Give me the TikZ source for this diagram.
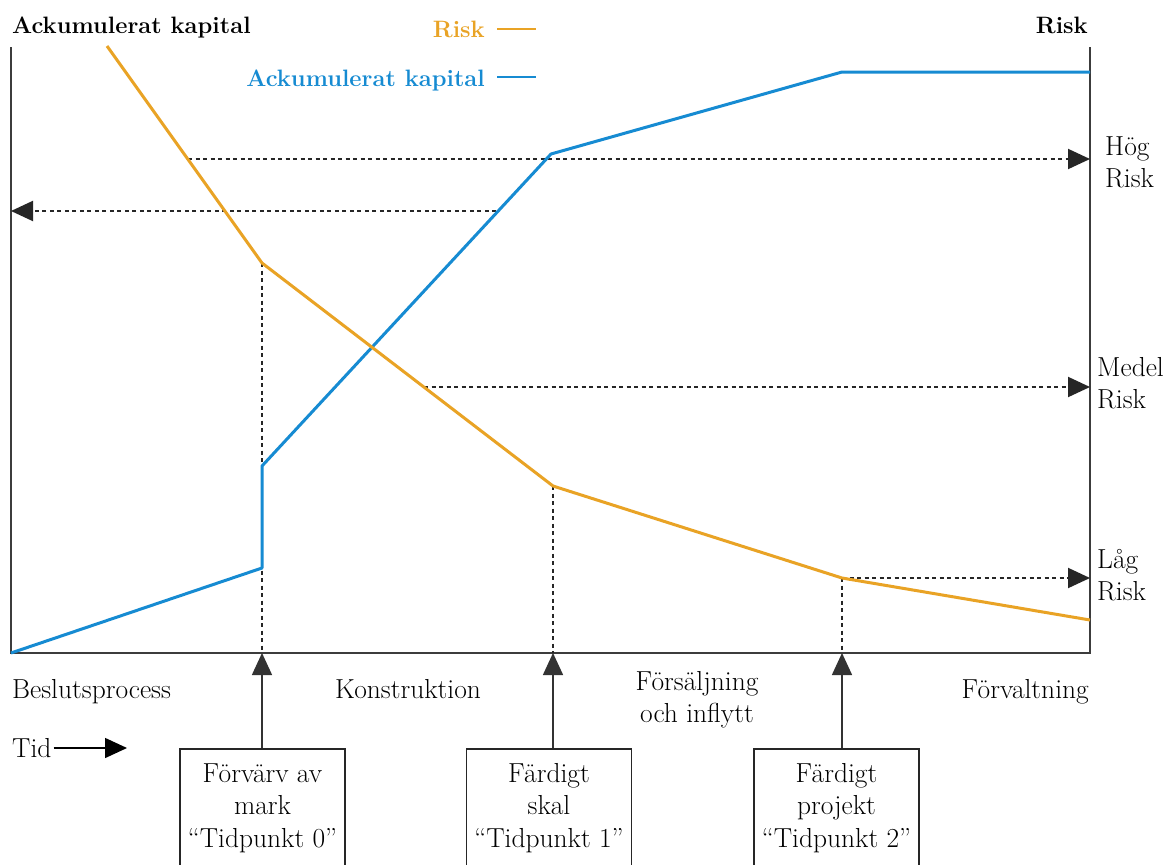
\documentclass[tikz,border=0pt]{standalone}
\usepackage{fontspec}
\usetikzlibrary{arrows.meta,calc}
\definecolor{riskorange}{HTML}{E9A325}
\definecolor{capblue}{HTML}{168BD2}
\definecolor{axisgray}{HTML}{3C3C3C}
\tikzset{
  axisline/.style={draw=axisgray, line width=2pt},
  riskline/.style={draw=riskorange, line width=3pt, line join=round},
  capline/.style={draw=capblue, line width=3pt, line join=round},
  guide/.style={draw=black!85, line width=2pt, dash pattern=on 4pt off 3.5pt},
  tip/.style={-{Triangle[length=22pt,width=20pt]}},
  lbl/.style={font=\fontsize{27.5}{32}\selectfont, inner sep=0pt, align=left},
  ttl/.style={font=\fontsize{23.7}{28}\selectfont\bfseries, inner sep=0pt},
  tbox/.style={draw=black!85, line width=1.5pt, minimum width=165pt, minimum height=160pt, anchor=north},
  boxtext/.style={font=\fontsize{27.5}{32.5}\selectfont, inner sep=0pt, align=center, anchor=base},
  upline/.style={draw=black!80, line width=1.5pt},
}
\begin{document}
\begin{tikzpicture}[x=1pt,y=-1pt]
\clip (0,0) rectangle (1176,865);
\fill[white] (0,0) rectangle (1176,865);

% axes
\coordinate (ltop) at (11,47);
\coordinate (o) at (11,653);
\coordinate (rbot) at (1090,653);
\coordinate (rtop) at (1090,47);
\draw[axisline] (ltop) -- (o) -- (rbot) -- (rtop);

% break points of the two curves
\coordinate (r0) at (107,46);
\coordinate (r1) at (262,263);
\coordinate (r2) at (553,486);
\coordinate (r3) at (842,578);
\coordinate (r4) at (1090,620);
\coordinate (c0) at (11,653);
\coordinate (c1) at (262,568);
\coordinate (c2) at (262,466);
\coordinate (c3) at (551,154);
\coordinate (c4) at (842,72);
\coordinate (c5) at (1090,72);

% vertical guides down to the time axis
\coordinate (a0) at (262,653);
\coordinate (a1) at (553,653);
\coordinate (a2) at (842,653);
\draw[guide] (r1) -- (a0);
\draw[guide] (r2) -- (a1);
\draw[guide] (r3) -- (a2);

% horizontal guides to the axes
\coordinate (hs) at (188,159);
\coordinate (he) at (1090,159);
\coordinate (ks) at (496,211);
\coordinate (ke) at (11,211);
\coordinate (ms) at (424,387);
\coordinate (me) at (1090,387);
\coordinate (le) at (1090,578);
\draw[guide, tip] (hs) -- (he);
\draw[guide, tip] (ks) -- (ke);
\draw[guide, tip] (ms) -- (me);
\draw[guide, tip] (r3) -- (le);

% curves
\draw[capline] (c0) -- (c1) -- (c2) -- (c3) -- (c4) -- (c5);
\draw[riskline] (r0) -- (r1) -- (r2) -- (r3) -- (r4);

% titles and legend
\node[ttl, anchor=base west] (tl) at (12,33) {Ackumulerat kapital};
\node[ttl, anchor=base east] (tr) at (1088,33) {Risk};
\node[ttl, anchor=base east, text=riskorange] (lg1) at (485,37) {Risk};
\node[ttl, anchor=base east, text=capblue] (lg2) at (485,86) {Ackumulerat kapital};
\coordinate (lg1a) at (497,29);
\coordinate (lg1b) at (536,29);
\coordinate (lg2a) at (497,77);
\coordinate (lg2b) at (536,77);
\draw[riskorange, line width=2.5pt] (lg1a) -- (lg1b);
\draw[capblue, line width=2.5pt] (lg2a) -- (lg2b);

% risk levels (anchored at the baseline of the second line)
\node[lbl, anchor=base west] (hog) at (1105,187) {Hög\\Risk};
\node[lbl, anchor=base west] (medel) at (1097,408) {Medel\\Risk};
\node[lbl, anchor=base west] (lag) at (1097,600) {Låg\\Risk};

% phases
\node[lbl, anchor=base west] (p1) at (12,698) {Beslutsprocess};
\node[lbl, anchor=base west] (p2) at (335,698) {Konstruktion};
\node[lbl, anchor=base, align=center] (p3) at (697,722) {Försäljning\\och inflytt};
\node[lbl, anchor=base east] (p4) at (1089,698) {Förvaltning};

% time arrow
\node[lbl, anchor=base west] (tid) at (12,757) {Tid};
\coordinate (tidend) at (127,748);
\draw[line width=1.5pt, tip] (tid.east |- tidend) ++(2,0) -- (tidend);

% milestone boxes
\node[tbox] (b0) at (262.5,748) {};
\node[tbox] (b1) at (549,748) {};
\node[tbox] (b2) at (836.5,748) {};
\node[boxtext] (t0) at (262.5,847) {Förvärv av\\mark\\“Tidpunkt 0”};
\node[boxtext] (t1) at (549,847) {Färdigt\\skal\\“Tidpunkt 1”};
\node[boxtext] (t2) at (836.5,847) {Färdigt\\projekt\\“Tidpunkt 2”};
\draw[upline, tip] (b0.north -| a0) -- (a0);
\draw[upline, tip] (b1.north -| a1) -- (a1);
\draw[upline, tip] (b2.north -| a2) -- (a2);
\end{tikzpicture}
\end{document}
